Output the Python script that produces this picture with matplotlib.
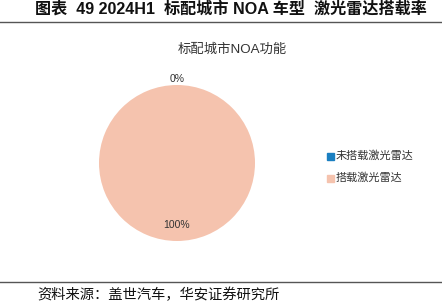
import matplotlib
matplotlib.use("Agg")
import matplotlib.pyplot as plt
import numpy as np

plt.rcParams['font.family'] = ['Liberation Sans', 'Noto Sans CJK SC', 'DejaVu Sans']

categories = ['未搭载激光雷达', '搭载激光雷达']
values = [0, 100]
pct_labels = ['0%', '100%']
colors = ['#1a7fc1', '#f5c3ae']

W, H = 442, 304
fig = plt.figure(figsize=(W / 100, H / 100), dpi=100)

def fx(x): return x / W
def fy(y): return 1 - y / H

# header
fig.text(fx(231), fy(9), '图表  49 2024H1  标配城市 NOA 车型  激光雷达搭载率',
         ha='center', va='center', fontsize=11.6, fontweight='bold', color='#111111')
fig.add_artist(plt.Line2D([0, 1], [fy(22), fy(22)], color='#555555', lw=1.0))
fig.add_artist(plt.Line2D([0, 1], [fy(282), fy(282)], color='#555555', lw=1.0))
fig.text(fx(37), fy(295), '资料来源：盖世汽车，华安证券研究所',
         ha='left', va='center', fontsize=10.3, color='#111111')

# chart title
fig.text(fx(232), fy(50), '标配城市NOA功能', ha='center', va='center',
         fontsize=9.6, color='#333333')

# pie
cx, cy, r = 177, 163, 78
ax = fig.add_axes([fx(cx - r), fy(cy + r), (2 * r) / W, (2 * r) / H])
wedges, _ = ax.pie(values, colors=colors, startangle=90, counterclock=False,
                   radius=1, wedgeprops=dict(linewidth=0))
ax.set_xlim(-1, 1)
ax.set_ylim(-1, 1)
ax.set_aspect('auto')
ax.axis('off')

dists = [1.08, 0.8]
for w, lab, d in zip(wedges, pct_labels, dists):
    ang = np.deg2rad((w.theta1 + w.theta2) / 2)
    ax.text(d * np.cos(ang), d * np.sin(ang), lab, ha='center', va='center',
            fontsize=7.5, color='#333333', clip_on=False)

# legend
for i, (cat, col) in enumerate(zip(categories, colors)):
    y = 156 + i * 22
    fig.patches.append(plt.Rectangle((fx(327), fy(y + 3.5)), 7 / W, 7 / H,
                                     transform=fig.transFigure, color=col,
                                     figure=fig))
    fig.text(fx(336), fy(y), cat, ha='left', va='center', fontsize=8,
             color='#333333')

fig.savefig('out.png', dpi=100)
